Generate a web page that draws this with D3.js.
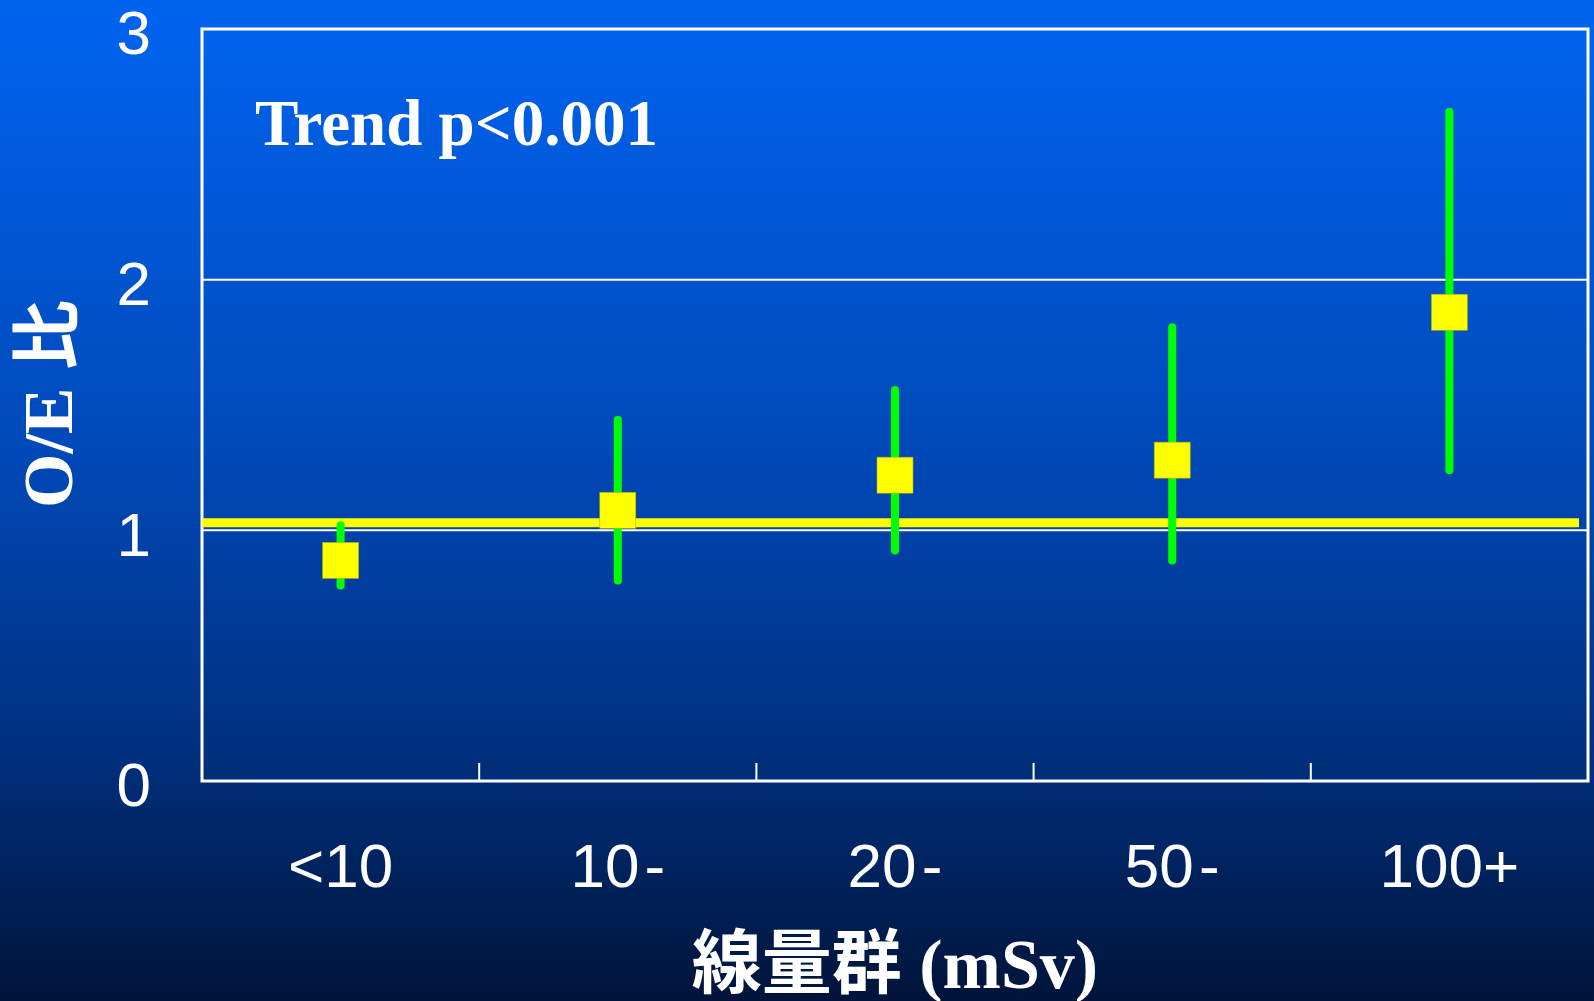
<!DOCTYPE html>
<html>
<head>
<meta charset="utf-8">
<script src="https://cdn.jsdelivr.net/npm/d3@7"></script>
<style>
  html, body { margin: 0; padding: 0; background: #00143a; }
  svg { display: block; }
</style>
</head>
<body>
<div id="oe-chart"></div>
<script>
// Data
const categories = ["<10", "10-", "20-", "50-", "100+"]
const oeRatio = [0.88, 1.08, 1.22, 1.28, 1.87]
const ciLower = [0.78, 0.80, 0.92, 0.88, 1.24]
const ciUpper = [1.02, 1.44, 1.56, 1.81, 2.67]
const yTicks = [0, 1, 2, 3]
const refLine = 1.03

const data = categories.map((c, i) => ({ cat: c, oe: oeRatio[i], lo: ciLower[i], hi: ciUpper[i] }))

// Margins
const W = 1594, H = 1001
const margin = { top: 29, right: 6, bottom: 220, left: 202 }
const width = W - margin.left - margin.right
const height = H - margin.top - margin.bottom

const root = d3.select("#oe-chart").append("svg")
  .attr("width", W)
  .attr("height", H)

// Background gradient
const grad = root.append("defs").append("linearGradient")
  .attr("id", "bg")
  .attr("x1", 0).attr("y1", 0).attr("x2", 0).attr("y2", 1)
grad.selectAll("stop")
  .data([[0, "#0064f0"], [0.45, "#0049b8"], [0.75, "#00307e"], [1, "#00143a"]])
  .enter().append("stop")
  .attr("offset", d => d[0])
  .attr("stop-color", d => d[1])

root.append("rect")
  .attr("width", W)
  .attr("height", H)
  .attr("fill", "url(#bg)")

const svg = root.append("g")
  .attr("transform", "translate(" + margin.left + "," + margin.top + ")")

// Scales
const x = d3.scaleBand()
  .domain(categories)
  .range([0, width])

const y = d3.scaleLinear()
  .domain([0, 3])
  .range([height, 0])

// Grid lines
svg.selectAll(".grid")
  .data(yTicks.filter(t => t > 0 && t < 3))
  .enter().append("line")
  .attr("x1", 0).attr("x2", width)
  .attr("y1", d => y(d)).attr("y2", d => y(d))
  .attr("stroke", "#fff")
  .attr("stroke-width", 2)

// Frame
svg.append("rect")
  .attr("width", width)
  .attr("height", height)
  .attr("fill", "none")
  .attr("stroke", "#fff")
  .attr("stroke-width", 3)

// x axis: inner ticks on band borders, labels centred in bands
const xAxis = d3.axisBottom(x).tickSize(0).tickPadding(0)
  .tickFormat(d => d.replace("-", "\u200A-"))

svg.append("g")
  .attr("class", "x axis")
  .attr("transform", "translate(0," + height + ")")
  .call(xAxis)
  .call(g => g.select(".domain").remove())
  .selectAll("text")
  .attr("y", 106)
  .attr("dy", 0)
  .style("font-family", "'Liberation Sans', Arial, sans-serif")
  .style("font-size", "62px")
  .attr("fill", "#fff")

svg.selectAll(".xtick")
  .data(categories.slice(1))
  .enter().append("line")
  .attr("x1", d => x(d)).attr("x2", d => x(d))
  .attr("y1", height).attr("y2", height - 18)
  .attr("stroke", "#fff")
  .attr("stroke-width", 2)

// y axis labels
const yAxis = d3.axisLeft(y).tickValues(yTicks).tickFormat(d3.format("d"))
  .tickSize(0).tickPadding(51)

svg.append("g")
  .attr("class", "y axis")
  .call(yAxis)
  .call(g => g.select(".domain").remove())
  .selectAll("text")
  .attr("dy", "0.4em")
  .style("font-family", "'Liberation Sans', Arial, sans-serif")
  .style("font-size", "62px")
  .attr("fill", "#fff")

// Reference line
svg.append("line")
  .attr("x1", 0).attr("x2", width - 9)
  .attr("y1", y(refLine)).attr("y2", y(refLine))
  .attr("stroke", "#ffff00")
  .attr("stroke-width", 9)

// Confidence intervals
svg.selectAll(".ci")
  .data(data)
  .enter().append("line")
  .attr("class", "ci")
  .attr("x1", d => x(d.cat) + x.bandwidth() / 2)
  .attr("x2", d => x(d.cat) + x.bandwidth() / 2)
  .attr("y1", d => y(d.lo))
  .attr("y2", d => y(d.hi))
  .attr("stroke", "#00ff00")
  .attr("stroke-width", 8)
  .attr("stroke-linecap", "round")

// O/E markers
const size = 36
svg.selectAll(".marker")
  .data(data)
  .enter().append("rect")
  .attr("class", "marker")
  .attr("x", d => x(d.cat) + x.bandwidth() / 2 - size / 2)
  .attr("y", d => y(d.oe) - size / 2)
  .attr("width", size)
  .attr("height", size)
  .attr("fill", "#ffff00")
  .attr("stroke", "#b0b000")
  .attr("stroke-width", 0.6)

// Trend annotation
svg.append("text")
  .attr("x", 53)
  .attr("y", 116)
  .style("font-family", "'Liberation Serif', 'Times New Roman', serif")
  .style("font-weight", "bold")
  .style("font-size", "65px")
  .attr("fill", "#fff")
  .text("Trend p<0.001")

// Axis titles
root.append("text")
  .attr("transform", "translate(72,404) rotate(-90)")
  .attr("text-anchor", "middle")
  .style("font-family", "'Liberation Serif', 'Times New Roman', 'Noto Sans CJK JP', serif")
  .style("font-weight", "bold")
  .style("font-size", "70px")
  .attr("fill", "#fff")
  .text("O/E 比")

root.append("text")
  .attr("x", margin.left + width / 2)
  .attr("y", 988)
  .attr("text-anchor", "middle")
  .style("font-family", "'Liberation Serif', 'Times New Roman', 'Noto Sans CJK JP', serif")
  .style("font-weight", "bold")
  .style("font-size", "70px")
  .attr("fill", "#fff")
  .text("線量群 (mSv)")
</script>
</body>
</html>
